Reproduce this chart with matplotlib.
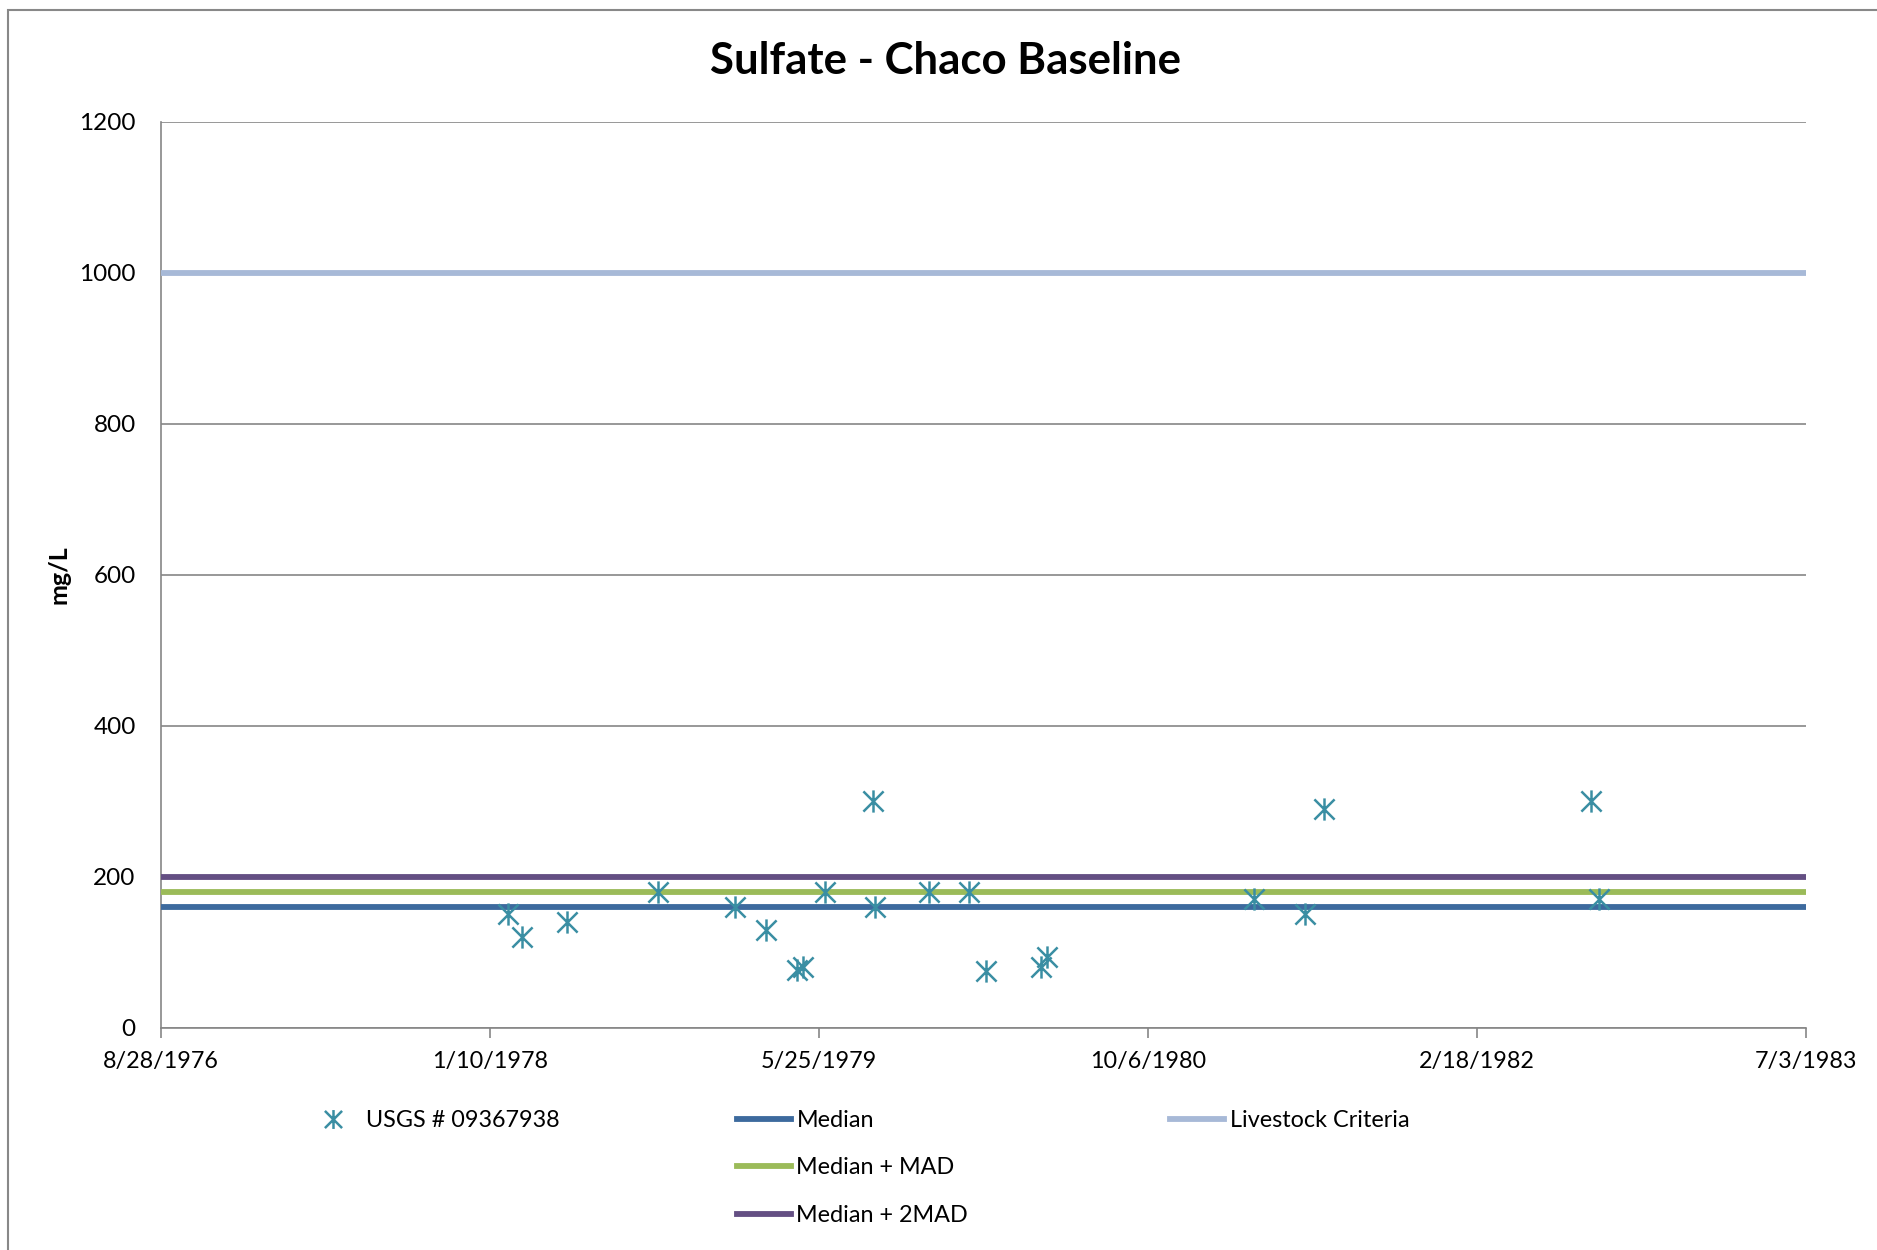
import matplotlib
matplotlib.use("Agg")
import matplotlib.pyplot as plt
from matplotlib.path import Path
from matplotlib.patches import Rectangle
from datetime import datetime

# sample dates and sulfate values (mg/L) for USGS # 09367938
sample_dates = ["1978-02-06", "1978-02-28", "1978-05-07", "1978-09-23", "1979-01-18",
                "1979-03-05", "1979-04-22", "1979-05-01", "1979-06-03", "1979-08-15",
                "1979-08-19", "1979-11-08", "1980-01-08", "1980-02-03", "1980-04-27",
                "1980-05-06", "1981-03-16", "1981-06-01", "1981-07-01", "1982-08-11",
                "1982-08-23"]
sulfate = [150, 120, 140, 180, 160, 130, 77, 81, 180, 300, 160, 180, 180, 75, 80, 94,
           170, 150, 290, 300, 170]

median = 160
median_mad = 180
median_2mad = 200
livestock = 1000

x_ticks = ["1976-08-28", "1978-01-10", "1979-05-25", "1980-10-06", "1982-02-18", "1983-07-03"]
y_ticks = [0, 200, 400, 600, 800, 1000, 1200]

plt.rcParams["font.family"] = ["Lato", "DejaVu Sans"]

fig = plt.figure(figsize=(18.77, 12.5), dpi=100)
ax = fig.add_axes([160.7 / 1877, 1 - 1027.7 / 1250, (1806 - 160.7) / 1877, (1027.7 - 121.7) / 1250])

# outer chart border
fig.patches.append(Rectangle((8 / 1877, -0.1), 1.2, 1 - 10 / 1250 + 0.1, transform=fig.transFigure,
                             fill=False, edgecolor="#888888", linewidth=1.5))

# asterisk-like marker: X plus vertical bar
star = Path([(-1, -1), (1, 1), (-1, 1), (1, -1), (0, -1.1), (0, 1.1)],
            [Path.MOVETO, Path.LINETO, Path.MOVETO, Path.LINETO, Path.MOVETO, Path.LINETO])

dates = [datetime.strptime(d, "%Y-%m-%d") for d in sample_dates]
ax.plot(dates, sulfate, linestyle="none", marker=star, markersize=16, markeredgewidth=1.8,
        markerfacecolor="none", markeredgecolor="#3A8EA3", label="USGS # 09367938", zorder=5)

l_med = ax.axhline(median, color="#3D6A9E", linewidth=4.2, label="Median", zorder=3)
l_mad = ax.axhline(median_mad, color="#9BBB59", linewidth=4.2, label="Median + MAD", zorder=3)
l_2mad = ax.axhline(median_2mad, color="#644F83", linewidth=4.2, label="Median + 2MAD", zorder=3)
l_live = ax.axhline(livestock, color="#A7B9D7", linewidth=4.2, label="Livestock Criteria", zorder=3)

xt = [datetime.strptime(d, "%Y-%m-%d") for d in x_ticks]
ax.set_xlim(xt[0], xt[-1])
ax.set_xticks(xt)
ax.set_xticklabels([f"{d.month}/{d.day}/{d.year}" for d in xt], fontsize=16.8)
ax.set_ylim(0, 1200)
ax.set_yticks(y_ticks)
ax.set_yticklabels([str(v) for v in y_ticks], fontsize=17.5)
ax.tick_params(axis="x", direction="out", length=7, width=1.2, color="#868686", pad=10)
ax.tick_params(axis="y", length=0, pad=18)
ax.grid(axis="y", color="#868686", linewidth=1.2)
ax.set_axisbelow(True)
for s in ["top", "right"]:
    ax.spines[s].set_visible(False)
for s in ["left", "bottom"]:
    ax.spines[s].set_color("#868686")
    ax.spines[s].set_linewidth(1.2)

ax.set_ylabel("mg/L", fontsize=18, fontweight="bold")
ax.yaxis.set_label_coords((70 - 160.7) / 1645.3, 0.5)
fig.text(946 / 1877, 1 - 61 / 1250, "Sulfate - Chaco Baseline",
         ha="center", va="center", fontsize=31.5, fontweight="bold")

handles, labels = ax.get_legend_handles_labels()
common = dict(frameon=False, fontsize=16.8, handlelength=2.3, handletextpad=0.25,
              labelspacing=1.13, borderpad=0, borderaxespad=0)
top = 1 - 1110 / 1250
leg1 = fig.legend([handles[0]], [labels[0]], loc="upper left",
                  bbox_to_anchor=(306 / 1877, top), markerscale=0.85, **common)
leg2 = fig.legend([l_med, l_mad, l_2mad], ["Median", "Median + MAD", "Median + 2MAD"], loc="upper left",
                  bbox_to_anchor=(737 / 1877, top), **common)
leg3 = fig.legend([l_live], ["Livestock Criteria"], loc="upper left",
                  bbox_to_anchor=(1170 / 1877, top), **common)

fig.savefig("out.png", dpi=100)
plt.close()
